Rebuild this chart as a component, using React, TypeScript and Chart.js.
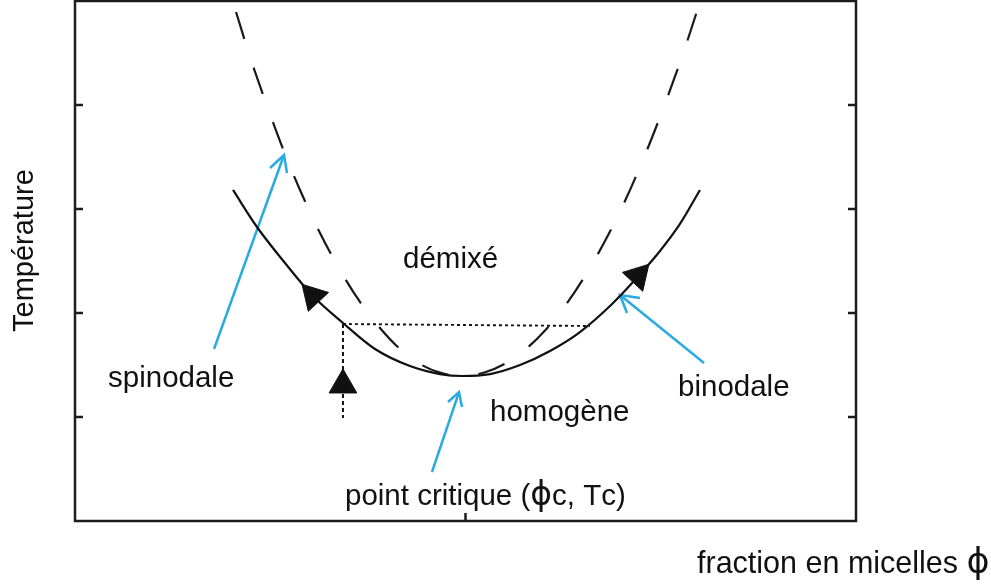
import React, { useEffect, useRef } from "react";
import { Chart, registerables } from "chart.js";

Chart.register(...registerables);

// Binodale (solid curve)
const binodaleX = [0.2023, 0.233, 0.2689, 0.3047, 0.3431, 0.3841, 0.4289, 0.4673, 0.4955, 0.5314, 0.5698, 0.6082, 0.6466, 0.685, 0.7145, 0.749, 0.7746, 0.8002];
const binodaleY = [3.183, 2.827, 2.481, 2.163, 1.904, 1.654, 1.49, 1.413, 1.394, 1.413, 1.5, 1.635, 1.817, 2.067, 2.298, 2.596, 2.856, 3.183];

// Spinodale (dashed curve)
const spinodaleX = [0.2062, 0.2241, 0.2497, 0.2689, 0.2881, 0.3137, 0.3393, 0.3649, 0.3905, 0.4161, 0.4417, 0.4673, 0.4955, 0.525, 0.5506, 0.5762, 0.6018, 0.6274, 0.653, 0.6786, 0.7042, 0.7298, 0.7554, 0.781, 0.8002];
const spinodaleY = [4.894, 4.462, 3.913, 3.529, 3.183, 2.769, 2.413, 2.106, 1.856, 1.654, 1.51, 1.427, 1.394, 1.43, 1.512, 1.646, 1.832, 2.067, 2.356, 2.692, 3.077, 3.519, 4.01, 4.548, 4.99];

// Dotted tie line and vertical path
const tieX = [0.3431, 0.6594];
const tieY = [1.894, 1.875];
const pathX = [0.3431, 0.3431];
const pathY = [1.894, 0.99];

// Black triangle arrow markers
const markerX = [0.3047, 0.7209, 0.3431];
const markerY = [2.163, 2.356, 1.308];
const markerRotation = [-43, 43, 0];

// Blue annotation arrows: [tail, tip] and head [wing1, tip, wing2]
const arrowSpinX = [0.178, 0.2676];
const arrowSpinY = [1.654, 3.519];
const headSpinX = [0.2497, 0.2676, 0.2714];
const headSpinY = [3.394, 3.519, 3.346];
const arrowBinX = [0.8054, 0.6978];
const arrowBinY = [1.519, 2.173];
const headBinX = [0.7234, 0.6978, 0.7068];
const headBinY = [2.144, 2.173, 2.0];
const arrowCritX = [0.4571, 0.4917];
const arrowCritY = [0.471, 1.24];
const headCritX = [0.4776, 0.4917, 0.4955];
const headCritY = [1.144, 1.24, 1.096];

// Axis ticks
const yTickValues = [1, 2, 3, 4];
const xTickValues = [0.5];

// Annotation labels
const labelTexts = ["démixé", "homogène", "spinodale", "binodale", "point critique (ϕc, Tc)"];
const labelX = [0.42, 0.5314, 0.0423, 0.7721, 0.3457];
const labelY = [2.433, 0.9615, 1.288, 1.202, 0.1538];

const xAxisTitle = "fraction en micelles ϕ";
const yAxisTitle = "Température";

const zip = (xs: number[], ys: number[]) => xs.map((x, i) => ({ x, y: ys[i] }));

const BLUE = "rgb(41,171,226)";
const INK = "#111111";
const FAMILY = '"Liberation Sans", Arial, sans-serif';
const PHI_FAMILY = '"DejaVu Sans", sans-serif';

// draws text, rendering the phi glyph with a taller font
function drawRich(ctx: CanvasRenderingContext2D, text: string, x: number, y: number, size: number, phiSize: number) {
  let cx = x;
  for (const ch of Array.from(text)) {
    ctx.font = ch === "ϕ" ? `${phiSize}px ${PHI_FAMILY}` : `${size}px ${FAMILY}`;
    ctx.fillText(ch, cx, y);
    cx += ctx.measureText(ch).width;
  }
}

const framePlugin = {
  id: "frameAndLabels",
  afterDraw(chart: any) {
    const { ctx, chartArea, scales } = chart;
    const xs = scales.x;
    const ys = scales.y;
    ctx.save();
    // frame
    ctx.strokeStyle = "#1c1c1c";
    ctx.lineWidth = 2.5;
    ctx.setLineDash([]);
    ctx.strokeRect(chartArea.left, chartArea.top, chartArea.right - chartArea.left, chartArea.bottom - chartArea.top);
    // inward ticks
    ctx.beginPath();
    yTickValues.forEach((v) => {
      const py = ys.getPixelForValue(v);
      ctx.moveTo(chartArea.left, py);
      ctx.lineTo(chartArea.left + 8, py);
      ctx.moveTo(chartArea.right, py);
      ctx.lineTo(chartArea.right - 8, py);
    });
    xTickValues.forEach((v) => {
      const px = xs.getPixelForValue(v);
      ctx.moveTo(px, chartArea.bottom);
      ctx.lineTo(px, chartArea.bottom - 8);
    });
    ctx.stroke();

    // labels
    ctx.fillStyle = INK;
    ctx.textAlign = "left";
    ctx.textBaseline = "alphabetic";
    labelTexts.forEach((t, i) => {
      drawRich(ctx, t, xs.getPixelForValue(labelX[i]), ys.getPixelForValue(labelY[i]), 29.5, 33);
    });

    // axis titles
    drawRich(ctx, xAxisTitle, 697, 573, 30.5, 35);
    ctx.font = `29px ${FAMILY}`;
    ctx.translate(33, 332);
    ctx.rotate(-Math.PI / 2);
    ctx.fillText(yAxisTitle, 0, 0);
    ctx.restore();
  },
};

export default function App() {
  const canvasRef = useRef<HTMLCanvasElement | null>(null);

  useEffect(() => {
    if (!canvasRef.current) return;
    const lineDs = (label: string, data: any[], color: string, width: number, dash: number[] = []) => ({
      label,
      data,
      showLine: true,
      borderColor: color,
      backgroundColor: color,
      borderWidth: width,
      borderDash: dash,
      pointRadius: 0,
      pointHoverRadius: 0,
      tension: 0,
      fill: false,
    });

    const chart = new Chart(canvasRef.current, {
      type: "scatter",
      data: {
        datasets: [
          {
            label: "marqueurs",
            data: zip(markerX, markerY),
            pointStyle: "triangle",
            pointRadius: 16,
            pointHoverRadius: 16,
            pointRotation: markerRotation,
            backgroundColor: INK,
            borderColor: INK,
            borderWidth: 1,
            showLine: false,
          } as any,
          { ...lineDs("binodale", zip(binodaleX, binodaleY), INK, 2.2), tension: 0.4, cubicInterpolationMode: "monotone" },
          { ...lineDs("spinodale", zip(spinodaleX, spinodaleY), "#1a1a1a", 2.2, [28, 30]), tension: 0.4, cubicInterpolationMode: "monotone" },
          lineDs("conode", zip(tieX, tieY), INK, 1.9, [3, 3]),
          lineDs("chemin", zip(pathX, pathY), INK, 2, [4, 3]),
          lineDs("flèche spinodale", zip(arrowSpinX, arrowSpinY), BLUE, 2.5),
          lineDs("pointe spinodale", zip(headSpinX, headSpinY), BLUE, 2.5),
          lineDs("flèche binodale", zip(arrowBinX, arrowBinY), BLUE, 2.5),
          lineDs("pointe binodale", zip(headBinX, headBinY), BLUE, 2.5),
          lineDs("flèche critique", zip(arrowCritX, arrowCritY), BLUE, 2.5),
          lineDs("pointe critique", zip(headCritX, headCritY), BLUE, 2.5),
        ],
      },
      options: {
        animation: false,
        responsive: true,
        maintainAspectRatio: false,
        events: [],
        layout: { autoPadding: false, padding: { left: 75, right: 135, top: 1, bottom: 64 } },
        plugins: {
          legend: { display: false },
          tooltip: { enabled: false },
          title: { display: false },
        },
        scales: {
          x: { type: "linear", min: 0, max: 1, display: false },
          y: { type: "linear", min: 0, max: 5, display: false },
        },
      },
      plugins: [framePlugin],
    });
    return () => chart.destroy();
  }, []);

  return (
    <div style={{ position: "absolute", left: 0, top: 0, width: 991, height: 585, background: "#ffffff" }}>
      <canvas ref={canvasRef} />
    </div>
  );
}
